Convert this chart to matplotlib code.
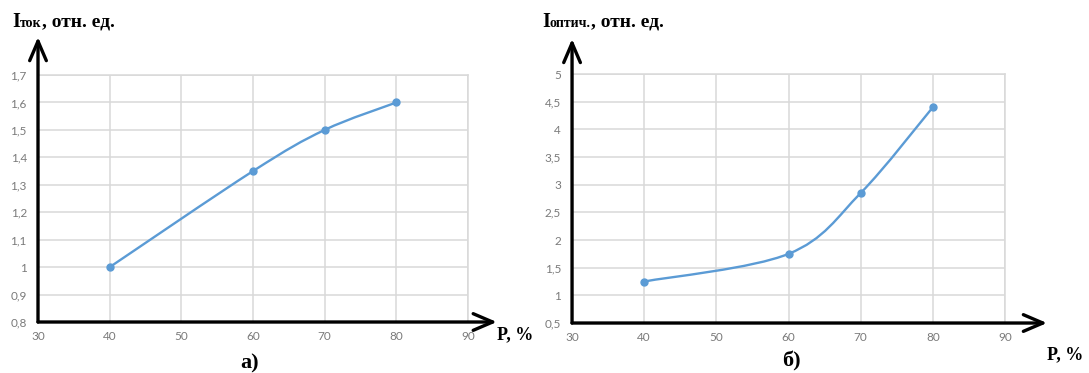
import numpy as np
import matplotlib
matplotlib.use('Agg')
import matplotlib.pyplot as plt
from matplotlib.path import Path
from matplotlib.patches import PathPatch
from matplotlib.transforms import IdentityTransform

# данные
p = [40, 60, 70, 80]
i_tok = [1.0, 1.35, 1.5, 1.6]
i_opt = [1.25, 1.75, 2.85, 4.4]

x_ticks = [30, 40, 50, 60, 70, 80, 90]
x_labels = ['30', '40', '50', '60', '70', '80', '90']
y_ticks_a = [0.8, 0.9, 1.0, 1.1, 1.2, 1.3, 1.4, 1.5, 1.6, 1.7]
y_labels_a = ['0,8', '0,9', '1', '1,1', '1,2', '1,3', '1,4', '1,5', '1,6', '1,7']
y_ticks_b = [0.5, 1, 1.5, 2, 2.5, 3, 3.5, 4, 4.5, 5]
y_labels_b = ['0,5', '1', '1,5', '2', '2,5', '3', '3,5', '4', '4,5', '5']

blue = '#5b9bd5'
grid_c = '#d9d9d9'
tick_c = '#7a7a7a'
serif = 'Liberation Serif'


def smooth_path(x, y):
    # сглаживание как в Excel (Catmull-Rom -> кривые Безье)
    pts = np.column_stack([x, y]).astype(float)
    ext = np.vstack([pts[0], pts, pts[-1]])
    verts = [pts[0]]
    codes = [Path.MOVETO]
    for i in range(1, len(ext) - 2):
        p0, p1, p2, p3 = ext[i - 1], ext[i], ext[i + 1], ext[i + 2]
        c1 = p1 + (p2 - p0) / 6
        c2 = p2 - (p3 - p1) / 6
        verts += [c1, c2, p2]
        codes += [Path.CURVE4] * 3
    return Path(verts, codes)


def make_axes(fig, rect, yt, yl, xtip, ytip):
    ax = fig.add_axes(rect)
    ax.set_xlim(x_ticks[0], x_ticks[-1])
    ax.set_ylim(yt[0], yt[-1])
    ax.set_xticks(x_ticks)
    ax.set_xticklabels(x_labels)
    ax.set_yticks(yt)
    ax.set_yticklabels(yl)
    ax.tick_params(length=0, colors=tick_c, labelsize=8.5)
    ax.tick_params(axis='y', pad=8)
    ax.tick_params(axis='x', pad=6.5)
    for lab in ax.get_xticklabels() + ax.get_yticklabels():
        lab.set_fontfamily('Lato')
    ax.grid(True, color=grid_c, lw=1.1)
    ax.set_axisbelow(True)
    for s in ['left', 'bottom']:
        ax.spines[s].set_visible(False)
    for s in ['top', 'right']:
        ax.spines[s].set_color(grid_c)
        ax.spines[s].set_linewidth(1.1)
    arr = dict(arrowstyle='->, head_length=1.4, head_width=0.6', lw=2.4,
               color='black', mutation_scale=10, shrinkA=0, shrinkB=0)
    ax.annotate('', xy=(0, ytip), xytext=(0, 0), xycoords='axes fraction',
                arrowprops=arr, annotation_clip=False, zorder=10)
    ax.annotate('', xy=(xtip, 0), xytext=(0, 0), xycoords='axes fraction',
                arrowprops=arr, annotation_clip=False, zorder=10)
    return ax


def pieces(fig, x, y, parts):
    # текст из кусков разного размера, координаты в пикселях (y сверху)
    r = fig.canvas.get_renderer()
    H = fig.get_figheight() * fig.dpi
    for txt, size in parts:
        t = fig.text(x, H - y, txt, fontsize=size, fontweight='bold',
                     family=serif, va='baseline', transform=IdentityTransform())
        x += t.get_window_extent(r).width


fig = plt.figure(figsize=(10.89, 3.73), dpi=100)

ax1 = make_axes(fig, [0.0349, 0.1367, 0.3949, 0.6622], y_ticks_a, y_labels_a, 1.067, 1.154)
ax1.add_patch(PathPatch(smooth_path(p, i_tok), fc='none', ec=blue, lw=1.7, zorder=3))
ax1.plot(p, i_tok, 'o', color=blue, ms=5, zorder=4)

ax2 = make_axes(fig, [0.5253, 0.1340, 0.3976, 0.6676], y_ticks_b, y_labels_b, 1.097, 1.141)
ax2.add_patch(PathPatch(smooth_path(p, i_opt), fc='none', ec=blue, lw=1.7, zorder=3))
ax2.plot(p, i_opt, 'o', color=blue, ms=5, zorder=4)

pieces(fig, 12, 27, [('I', 14.5), ('ток', 10), (', отн. ед.', 14)])
pieces(fig, 542, 27, [('I', 14.5), ('оптич.', 10), (', отн. ед.', 14)])

H = 373
fig.text(497, H - 339, 'P, %', fontsize=13, fontweight='bold', family=serif,
         va='baseline', transform=IdentityTransform())
fig.text(1047, H - 359, 'P, %', fontsize=13, fontweight='bold', family=serif,
         va='baseline', transform=IdentityTransform())
fig.text(250, H - 368, 'а)', fontsize=16, fontweight='bold', family=serif,
         va='baseline', ha='center', transform=IdentityTransform())
fig.text(791, H - 366, 'б)', fontsize=16, fontweight='bold', family=serif,
         va='baseline', ha='center', transform=IdentityTransform())

fig.savefig('out.png', dpi=100)
